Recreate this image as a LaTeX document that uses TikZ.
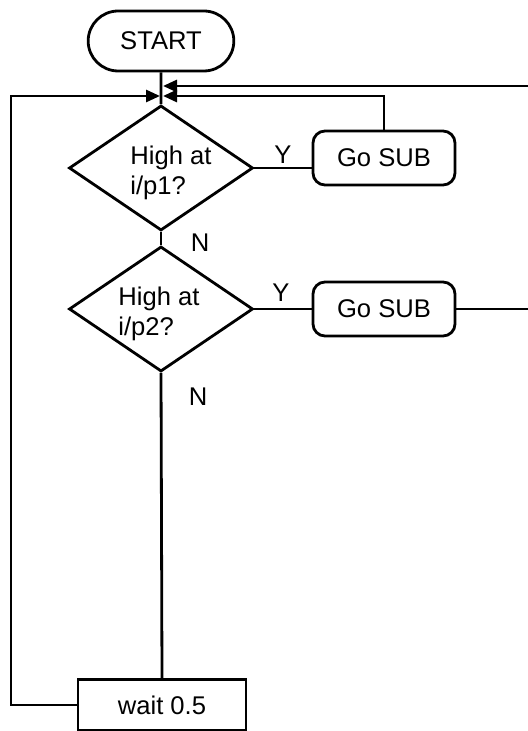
\documentclass[tikz,border=0pt]{standalone}
\usepackage{fontspec}
\setmainfont{Liberation Sans}
\usetikzlibrary{shapes.geometric, shapes.misc, arrows.meta}

\begin{document}
\begin{tikzpicture}[x = 0.5pt, y = -0.5pt, line width = 1.4pt,
	every node/.style = {font = \fontsize{12.8}{15}\selectfont},
	term/.style = {draw, rounded rectangle, minimum width = 79.5pt, minimum height = 30pt},
	dec/.style = {draw, diamond, inner sep = 0pt, minimum width = 92pt, minimum height = 62.5pt},
	sub/.style = {draw, rounded corners = 6pt, minimum width = 71pt, minimum height = 27pt},
	proc/.style = {draw, minimum width = 84pt, minimum height = 25.5pt},
	arr/.style = {-{Triangle[length = 7pt, width = 6pt]}}]
	\useasboundingbox (0,0) rectangle (528,731);
	\clip (0,0) rectangle (528,731);
	
	\node[term] (start) at (161,41) {START};
	\node[dec] (dec1) at (161,168) {};
	\node[align = left] (q1) at (171,173) {High at\\i/p1?};
	\node[sub] (sub1) at (384,158) {Go SUB};
	\node[dec] (dec2) at (161,309) {};
	\node[align = left] (q2) at (159,314) {High at\\i/p2?};
	\node[sub] (sub2) at (384,309) {Go SUB};
	\node[proc] (wait) at (162,705) {wait 0.5};
	
	\node (y1) at (283,155) {Y};
	\node (n1) at (200,243) {N};
	\node (y2) at (281,293) {Y};
	\node (n2) at (198,397) {N};
	
	\coordinate (inL) at (160,96);
	\coordinate (inR) at (163,96);
	\coordinate (inT) at (163,86);
	\coordinate (lft) at (11,96);
	\coordinate (rgt) at (545,86);
	
	\draw (start) -- (dec1);
	\draw (dec1.east) -- (dec1.east -| sub1.west);
	\draw[arr] (sub1.north) |- (inR);
	\draw (dec1.south) -- (dec2.north);
	\draw (dec2) -- (sub2);
	\draw[arr] (sub2.east) -| (rgt) -- (inT);
	\draw (dec2.south) -- (wait.north);
	\draw[arr] (wait.west) -| (lft) -- (inL);
\end{tikzpicture}
\end{document}
